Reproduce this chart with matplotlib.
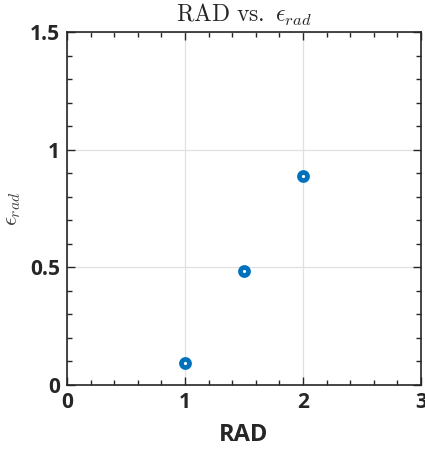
import matplotlib
matplotlib.use("Agg")
import matplotlib.pyplot as plt
from matplotlib.ticker import MultipleLocator

# RAD values and corresponding emissivity
rad = [1.0, 1.5, 2.0]
eps_rad = [0.092, 0.484, 0.889]

x_ticks = [0, 1, 2, 3]
y_ticks = [0, 0.5, 1, 1.5]
y_tick_labels = ['0', '0.5', '1', '1.5']

plt.rcParams['mathtext.fontset'] = 'cm'
plt.rcParams['font.family'] = ['Open Sans', 'DejaVu Sans']
dark = '#262626'

fig = plt.figure(figsize=(4.25, 4.53), dpi=100)
ax = fig.add_axes([67 / 425, 1 - 385 / 453, 354 / 425, 353 / 453])

ax.plot(rad, eps_rad, linestyle='none', marker='o', markersize=5.8,
        markerfacecolor='white', markeredgecolor='#0072BD', markeredgewidth=3.4,
        zorder=3)

ax.set_xlim(0, 3)
ax.set_ylim(0, 1.5)
ax.set_xticks(x_ticks)
ax.set_yticks(y_ticks)
ax.set_yticklabels(y_tick_labels)
ax.xaxis.set_minor_locator(MultipleLocator(0.2))
ax.yaxis.set_minor_locator(MultipleLocator(0.1))
ax.grid(True, which='major', color='#e0e0e0', linewidth=0.9)
ax.set_axisbelow(True)

ax.tick_params(which='both', direction='in', top=True, right=True, colors=dark,
               width=1.0)
ax.tick_params(which='major', length=6, labelsize=15, pad=5)
ax.tick_params(which='minor', length=3.5)
for lab in ax.get_xticklabels() + ax.get_yticklabels():
    lab.set_fontweight('bold')
for sp in ax.spines.values():
    sp.set_color(dark)
    sp.set_linewidth(1.2)

ax.set_xlabel('RAD', fontsize=17, fontweight='bold', color=dark, labelpad=7)
ax.set_ylabel(r'$\epsilon_{rad}$', fontsize=16, color='#404040', labelpad=5)
ax.set_title(r'$\mathrm{RAD\ vs.\ }\epsilon_{rad}$', fontsize=17, color=dark, pad=7)

fig.savefig('out.png', dpi=100)
